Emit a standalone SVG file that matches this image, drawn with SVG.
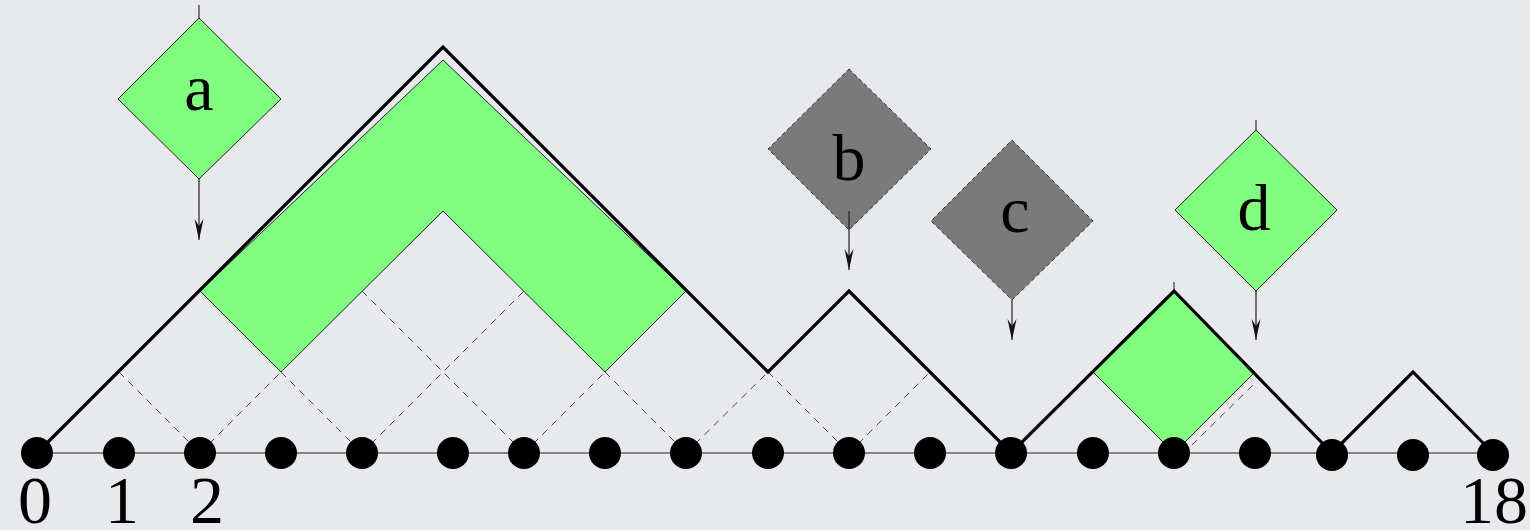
<svg xmlns="http://www.w3.org/2000/svg" width="1530" height="530" viewBox="0 0 1530 530">
<style>
.green{fill:#80fc80;stroke:#222;stroke-width:1}
.gray{fill:#7a7a7a;stroke:#333;stroke-width:1;stroke-dasharray:4,3}
.dash{fill:none;stroke:#444;stroke-width:1;stroke-dasharray:7,6}
.path{fill:none;stroke:#000;stroke-width:3.2;stroke-linejoin:miter}
.base{stroke:#222;stroke-width:1.2}
.dot{fill:#000}
.lbl{font-family:"Liberation Serif","Times New Roman",serif;font-size:66px;fill:#000;text-anchor:middle}
.num{font-family:"Liberation Serif","Times New Roman",serif;font-size:68px;fill:#000;text-anchor:middle}
.arr{stroke:#222;stroke-width:1.2;fill:none;marker-end:url(#ah)}
.tick{stroke:#333;stroke-width:1.2}
</style>
<defs>
<marker id="ah" viewBox="-22 -6 24 12" refX="0" refY="0" markerWidth="24" markerHeight="12" markerUnits="userSpaceOnUse" orient="auto">
<path d="M0,0 L-21,-4.5 L-14,0 L-21,4.5 Z" fill="#111"/>
</marker>
</defs>
<rect x="0" y="0" width="1530" height="530" fill="#e8e9ed"/>

<g id="lattice">
<path class="dash" d="M119,372 L200,453 M200,453 L281,372 M281,372 L362,453 M362,453 L524,291 M362,291 L524,453 M524,453 L605,372 M605,372 L686,453 M686,453 L768,372 M768,372 L849,453 M849,453 L930,372 M1192,445 L1257,381"/>
</g>

<g id="baseline">
<line class="base" x1="37" y1="453" x2="1493" y2="453"/>
</g>

<g id="chevron">
<polygon class="green" points="200,291 443,60 686,291 605,372 443,211 281,372"/>
</g>

<g id="square-d">
<polygon class="green" points="1174,291 1255,372 1174,453 1093,372"/>
<line class="tick" x1="1174" y1="282" x2="1174" y2="291"/>
</g>

<g id="dyck-path">
<polyline class="path" points="37,453 443,47 768,372 849,291 1011,453 1174,291 1332,453 1413,372 1493,453"/>
</g>

<g id="dots">
<circle class="dot" cx="37" cy="453" r="16"/>
<circle class="dot" cx="119" cy="453" r="16"/>
<circle class="dot" cx="200" cy="453" r="16"/>
<circle class="dot" cx="281" cy="453" r="16"/>
<circle class="dot" cx="362" cy="453" r="16"/>
<circle class="dot" cx="453" cy="453" r="16"/>
<circle class="dot" cx="524" cy="453" r="16"/>
<circle class="dot" cx="605" cy="453" r="16"/>
<circle class="dot" cx="686" cy="453" r="16"/>
<circle class="dot" cx="768" cy="453" r="16"/>
<circle class="dot" cx="849" cy="453" r="16"/>
<circle class="dot" cx="930" cy="453" r="16"/>
<circle class="dot" cx="1011" cy="453" r="16"/>
<circle class="dot" cx="1093" cy="453" r="16"/>
<circle class="dot" cx="1174" cy="453" r="16"/>
<circle class="dot" cx="1255" cy="453" r="16"/>
<circle class="dot" cx="1332" cy="455" r="16"/>
<circle class="dot" cx="1413" cy="455" r="16"/>
<circle class="dot" cx="1493" cy="455" r="16"/>
</g>

<g id="numbers">
<text class="num" x="35" y="523">0</text>
<text class="num" x="122" y="523">1</text>
<text class="num" x="207" y="523">2</text>
<text class="num" x="1494" y="523">18</text>
</g>

<g id="node-a">
<line class="tick" x1="199" y1="5" x2="199" y2="18"/>
<polygon class="green" points="199,18 281,99 199,179 118,99"/>
<text class="lbl" x="199" y="110">a</text>
</g>

<g id="node-b">
<polygon class="gray" points="849,69 931,149 849,230 768,149"/>
<text class="lbl" x="849" y="180">b</text>
</g>

<g id="node-c">
<polygon class="gray" points="1012,140 1093,221 1012,300 931,221"/>
<text class="lbl" x="1015" y="232">c</text>
</g>

<g id="node-d">
<line class="tick" x1="1256" y1="120" x2="1256" y2="130"/>
<polygon class="green" points="1256,130 1337,210 1256,291 1175,210"/>
<text class="lbl" x="1254" y="230">d</text>
</g>

<g id="connectors">
<line class="arr" x1="199" y1="179" x2="199" y2="240"/>
<line class="arr" x1="849" y1="211" x2="849" y2="270"/>
<line class="arr" x1="1012" y1="300" x2="1012" y2="340"/>
<line class="arr" x1="1256" y1="291" x2="1256" y2="340"/>
</g>
</svg>
